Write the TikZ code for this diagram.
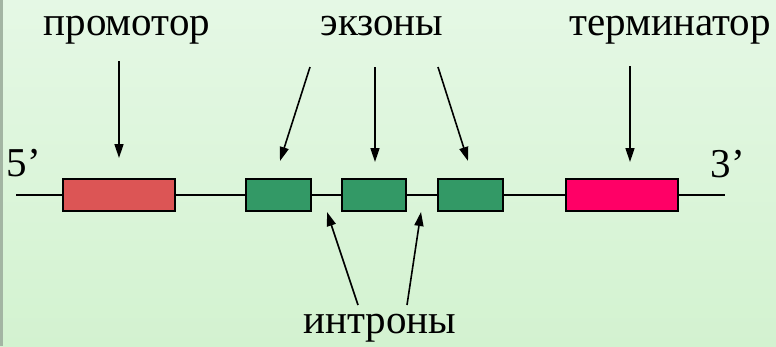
\documentclass[tikz,border=0pt]{standalone}
\usepackage{fontspec}
\setmainfont{Liberation Serif}
\usetikzlibrary{arrows.meta}
\definecolor{bgtop}{HTML}{E5F8E5}
\definecolor{bgbot}{HTML}{D3F2D0}
\definecolor{edge}{HTML}{A3B5A3}
\definecolor{promo}{HTML}{DC5555}
\definecolor{exon}{HTML}{339966}
\definecolor{term}{HTML}{FF0066}
\tikzset{
  lbl/.style={font=\fontsize{41}{45}\selectfont, inner sep=0pt, anchor=base},
  gene/.style={draw=black, line width=2pt, inner sep=0pt},
  ptr/.style={line width=1.6pt, -{Triangle[length=14pt,width=9pt]}},
  dna/.style={line width=2pt}
}
\begin{document}
\begin{tikzpicture}[x=1pt,y=-1pt]
  % backdrop
  \shade[top color=bgtop, bottom color=bgbot] (0,0) rectangle (776,346);
  \fill[edge] (0,0) rectangle (3,346);
  \useasboundingbox (0,0) rectangle (776,346);

  % strand ends
  \coordinate (s5) at (16,195);
  \coordinate (s3) at (725,195);

  % gene elements
  \node[gene, fill=promo, minimum width=112pt, minimum height=32pt] (pr) at (119,195) {};
  \node[gene, fill=exon, minimum width=65pt, minimum height=32pt] (e1) at (278.5,195) {};
  \node[gene, fill=exon, minimum width=64pt, minimum height=32pt] (e2) at (374,195) {};
  \node[gene, fill=exon, minimum width=65pt, minimum height=32pt] (e3) at (470.5,195) {};
  \node[gene, fill=term, minimum width=112pt, minimum height=32pt] (tr) at (622,195) {};

  \draw[dna] (s5) -- (pr.west);
  \draw[dna] (pr.east) -- (e1.west);
  \draw[dna] (e1.east) -- (e2.west);
  \draw[dna] (e2.east) -- (e3.west);
  \draw[dna] (e3.east) -- (tr.west);
  \draw[dna] (tr.east) -- (s3);

  % labels
  \node[lbl] (lp) at (127,35) {промотор};
  \node[lbl] (le) at (382,35) {экзоны};
  \node[lbl] (lt) at (670,35) {терминатор};
  \node[lbl] (li) at (380,333) {интроны};
  \node[lbl] (l5) at (24,176) {5’};
  \node[lbl] (l3) at (728,177) {3’};

  % pointer start and end points
  \coordinate (pa) at (119,61);   \coordinate (pb) at (119,158);
  \coordinate (ta) at (630,66);   \coordinate (tb) at (630,162);
  \coordinate (x1a) at (310,67);  \coordinate (x1b) at (280,161);
  \coordinate (x2a) at (375,67);  \coordinate (x2b) at (375,162);
  \coordinate (x3a) at (438,67);  \coordinate (x3b) at (468,161);
  \coordinate (i1a) at (358,305); \coordinate (i1b) at (327,212);
  \coordinate (i2a) at (407,305); \coordinate (i2b) at (421,212);

  \draw[ptr] (pa) -- (pb);
  \draw[ptr] (ta) -- (tb);
  \draw[ptr] (x1a) -- (x1b);
  \draw[ptr] (x2a) -- (x2b);
  \draw[ptr] (x3a) -- (x3b);
  \draw[ptr] (i1a) -- (i1b);
  \draw[ptr] (i2a) -- (i2b);
\end{tikzpicture}
\end{document}
